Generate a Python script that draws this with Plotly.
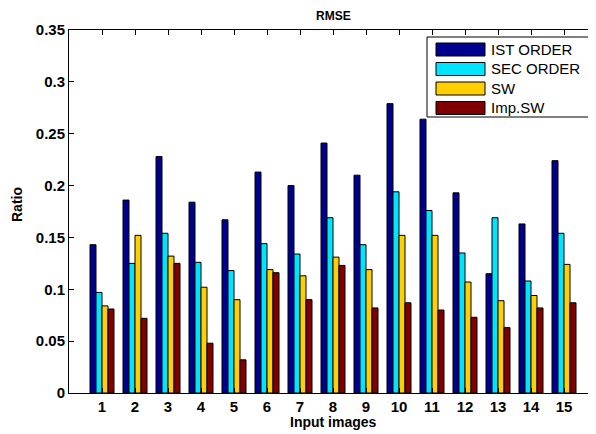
import plotly.graph_objects as go

categories = [str(i) for i in range(1, 16)]
series_names = ["IST ORDER", "SEC ORDER", "SW", "Imp.SW"]
ist_order = [0.143, 0.186, 0.228, 0.184, 0.167, 0.213, 0.200, 0.241, 0.210, 0.279, 0.264, 0.193, 0.115, 0.163, 0.224]
sec_order = [0.097, 0.125, 0.154, 0.126, 0.118, 0.144, 0.134, 0.169, 0.143, 0.194, 0.176, 0.135, 0.169, 0.108, 0.154]
sw = [0.084, 0.152, 0.132, 0.102, 0.090, 0.119, 0.113, 0.131, 0.119, 0.152, 0.152, 0.107, 0.089, 0.094, 0.124]
imp_sw = [0.081, 0.072, 0.125, 0.048, 0.032, 0.116, 0.090, 0.123, 0.082, 0.087, 0.080, 0.073, 0.063, 0.082, 0.087]
colors = ["#00008F", "#00E5FF", "#FFCF00", "#800000"]
y_ticks = [0, 0.05, 0.1, 0.15, 0.2, 0.25, 0.3, 0.35]
y_tick_labels = ["0", "0.05", "0.1", "0.15", "0.2", "0.25", "0.3", "0.35"]
chart_title = "RMSE"
x_title = "Input images"
y_title = "Ratio"

xpos = list(range(1, 16))
all_series = [ist_order, sec_order, sw, imp_sw]

FONT = "Liberation Sans, Arial, sans-serif"

fig = go.Figure()
for name, vals, col in zip(series_names, all_series, colors):
    fig.add_trace(go.Bar(x=xpos, y=vals, name=name, marker=dict(color=col, line=dict(color="black", width=1)),
                         showlegend=False))

# layout geometry (screen pixels; the page body adds an 8px offset)
OFF = 8
L, R, T, B = 69, 597, 30, 393          # desired plot area on screen
W, H = R - L, B - T
def px(x):
    return (x - L) / W
def py(y):
    return (B - y) / H

# manual legend (MATLAB style)
shapes = [dict(type="rect", xref="paper", yref="paper", x0=px(427), x1=px(589), y0=py(117), y1=py(37),
               line=dict(color="black", width=1), fillcolor="white", layer="above")]
annotations = []
row_centers = [49.5, 69, 88.5, 108]
for name, col, cy in zip(series_names, colors, row_centers):
    shapes.append(dict(type="rect", xref="paper", yref="paper", x0=px(436), x1=px(485), y0=py(cy + 6.5), y1=py(cy - 6.5),
                       line=dict(color="black", width=1), fillcolor=col, layer="above"))
    annotations.append(dict(text=name, xref="paper", yref="paper", x=px(489), y=py(cy), xanchor="left", yanchor="middle",
                            showarrow=False, font=dict(family=FONT, size=15, color="black")))

# title and axis titles
annotations.append(dict(text=chart_title, xref="paper", yref="paper", x=px(333), y=py(16), xanchor="center",
                        yanchor="middle", showarrow=False,
                        font=dict(family=FONT, size=12, color="black", weight="bold")))
annotations.append(dict(text=x_title, xref="paper", yref="paper", x=px(333), y=py(422), xanchor="center",
                        yanchor="middle", showarrow=False,
                        font=dict(family=FONT, size=14, color="black", weight="bold")))
annotations.append(dict(text=y_title, xref="paper", yref="paper", x=px(17), y=py(205), xanchor="center",
                        yanchor="middle", showarrow=False, textangle=-90,
                        font=dict(family=FONT, size=14, color="black", weight="bold")))

FW, FH = 596, 434
fig.update_layout(
    width=FW, height=FH,
    margin=dict(l=L - OFF, r=FW - (R - OFF), t=T - OFF, b=FH - (B - OFF), autoexpand=False),
    paper_bgcolor="white", plot_bgcolor="white",
    barmode="group", bargap=0.273, bargroupgap=0,
    shapes=shapes, annotations=annotations,
    font=dict(family=FONT, color="black"),
)
fig.update_xaxes(range=[0, 16], tickmode="array", tickvals=xpos, ticktext=categories,
                 ticks="inside", ticklen=5, tickcolor="black", showline=True, linecolor="black", linewidth=1,
                 mirror="ticks", showgrid=False, zeroline=False, automargin=False,
                 tickfont=dict(family=FONT, size=15, color="black", weight="bold"))
fig.update_yaxes(range=[0, 0.35], tickmode="array", tickvals=y_ticks, ticktext=y_tick_labels,
                 ticks="inside", ticklen=5, tickcolor="black", showline=True, linecolor="black", linewidth=1,
                 mirror="ticks", showgrid=False, zeroline=False, automargin=False,
                 tickfont=dict(family=FONT, size=15, color="black", weight="bold"))

fig.write_html("out.html")
